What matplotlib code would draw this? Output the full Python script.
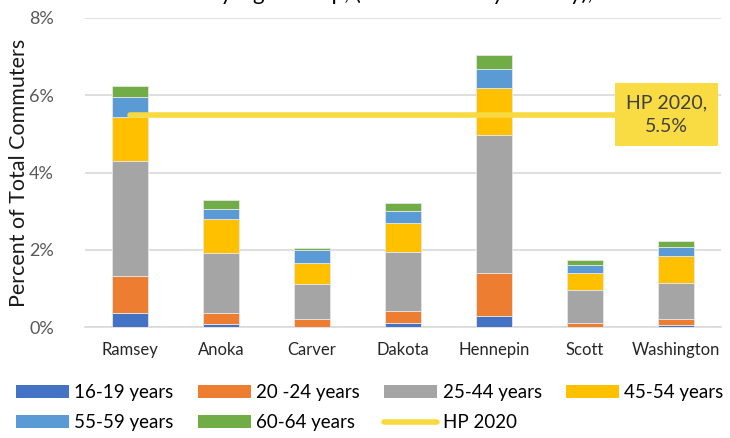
import matplotlib.pyplot as plt
import numpy as np
from matplotlib.patches import Patch
from matplotlib.lines import Line2D

plt.rcParams['font.family'] = ['Lato', 'DejaVu Sans']

counties = ['Ramsey', 'Anoka', 'Carver', 'Dakota', 'Hennepin', 'Scott', 'Washington']
age_groups = ['16-19 years', '20 -24 years', '25-44 years', '45-54 years', '55-59 years', '60-64 years']

# percent of total commuters, per age group
age_16_19 = [0.37, 0.07, 0.01, 0.11, 0.30, 0.01, 0.05]
age_20_24 = [0.95, 0.30, 0.21, 0.31, 1.11, 0.10, 0.15]
age_25_44 = [2.99, 1.54, 0.89, 1.53, 3.57, 0.85, 0.95]
age_45_54 = [1.14, 0.90, 0.55, 0.75, 1.20, 0.45, 0.69]
age_55_59 = [0.50, 0.25, 0.34, 0.30, 0.49, 0.19, 0.24]
age_60_64 = [0.30, 0.24, 0.06, 0.20, 0.36, 0.15, 0.15]
hp2020 = 5.5

series = [age_16_19, age_20_24, age_25_44, age_45_54, age_55_59, age_60_64]
colors = ['#4472C4', '#ED7D31', '#A5A5A5', '#FFC000', '#5B9BD5', '#70AD47']
hp_color = '#F8D940'

fig = plt.figure(figsize=(7.3, 4.38), dpi=100)
ax = fig.add_axes([0.116, 0.253, 0.872, 0.706])

x = np.arange(len(counties))
bottom = np.zeros(len(counties))
for vals, c in zip(series, colors):
    ax.bar(x, vals, 0.4, bottom=bottom, color=c, edgecolor='#e6e6e6', linewidth=0.6, zorder=3)
    bottom += np.array(vals)

ax.plot(x, [hp2020] * len(x), color=hp_color, lw=4, solid_capstyle='round', zorder=4)
ax.text(5.9, hp2020, 'HP 2020,\n5.5%', ha='center', va='center', fontsize=14,
        color='#404040', linespacing=1.5, zorder=5,
        bbox=dict(boxstyle='square,pad=0.55', facecolor='#F9DB44', edgecolor='none'))

ax.set_xlim(-0.5, len(counties) - 0.5)
ax.set_ylim(0, 8)
ax.set_yticks([0, 2, 4, 6, 8])
ax.set_yticklabels(['0%', '2%', '4%', '6%', '8%'], fontsize=13, color='#595959')
ax.set_xticks(x)
ax.set_xticklabels(counties, fontsize=12, color='#262626')
ax.tick_params(length=0, pad=11)
ax.tick_params(axis='y', pad=22)
ax.yaxis.grid(True, color='#D9D9D9', lw=1.2, zorder=0)
for s in ['top', 'right', 'left']:
    ax.spines[s].set_visible(False)
ax.spines['bottom'].set_color('#D9D9D9')
ax.spines['bottom'].set_linewidth(1.2)
ax.set_ylabel('Percent of Total Commuters', fontsize=15.5, color='#1a1a1a', labelpad=0)

# title is cut off at the top edge in the reference, only descenders show
fig.text(0.505, 1.001, 'Commuters by Age Group, (Metro Area by County), 2016',
         ha='center', va='baseline', fontsize=16)

handles = [Patch(facecolor=c) for c in colors]
handles.append(Line2D([0], [0], color=hp_color, lw=4, solid_capstyle='round'))
labels = age_groups + ['HP 2020']
order = [0, 4, 1, 5, 2, 6, 3]  # row-wise fill like the reference
fig.legend([handles[i] for i in order], [labels[i] for i in order], ncol=4,
           loc='upper left', bbox_to_anchor=(0.012, 0.14),
           frameon=False, fontsize=13.5, handlelength=2.8, handleheight=0.65,
           handletextpad=0.3, columnspacing=1.3, labelspacing=0.7, borderaxespad=0)

fig.savefig('out.png', dpi=100)
